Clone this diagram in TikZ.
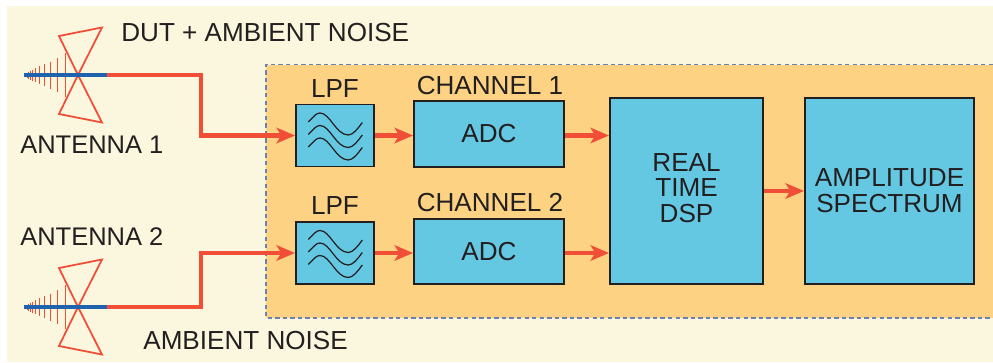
\documentclass[tikz,border=0pt]{standalone}
\usepackage{fontspec}
\setmainfont{Liberation Sans}
\usetikzlibrary{arrows.meta}
\definecolor{creambg}{HTML}{FBF6DE}
\definecolor{orangebg}{HTML}{FDD383}
\definecolor{boxblue}{HTML}{65C8E3}
\definecolor{wirered}{HTML}{F04E37}
\definecolor{feedblue}{HTML}{1F62AE}
\definecolor{dashblue}{HTML}{6B82B0}
\definecolor{inkgray}{HTML}{231F20}

\begin{document}
\begin{tikzpicture}[
  x=0.02cm, y=-0.02cm,
  every node/.style={font=\fontsize{14.85}{14.7}\selectfont, text=inkgray},
  block/.style={draw=inkgray, line width=1.1pt, fill=boxblue, inner sep=0pt, align=center},
  lpf/.style={block, minimum width=1.56cm, minimum height=1.24cm},
  adc/.style={block, minimum width=3.0cm, minimum height=1.31cm},
  tall/.style={block, minimum height=3.72cm},
  label/.style={inner sep=0pt, anchor=west},
  wire/.style={draw=wirered, line width=2.5pt},
  sig/.style={wire, -{Stealth[length=10.5pt, width=8.8pt, inset=2.6pt]}},
  feed/.style={draw=feedblue, line width=2.5pt},
  dipole/.style={draw=wirered, line width=1pt},
]
\useasboundingbox (0,0) rectangle (993,362);

% ── backgrounds ──
\fill[creambg] (7,6) rectangle (993,361.5);
\fill[orangebg] (266,64.5) rectangle (993,318);
\draw[dashblue, line width=0.6pt, dash pattern=on 2.5pt off 1.8pt] (993,64.5) -- (266,64.5) -- (266,318) -- (993,318);

% ── blocks ──
\node[lpf] (lpf1) at (335,135.5) {};
\node[adc] (adc1) at (489,134) {ADC};
\node[lpf] (lpf2) at (335,253) {};
\node[adc] (adc2) at (489,251.5) {ADC};
\node[tall, minimum width=3.06cm] (dsp) at (686.5,191) {};
\node[tall, minimum width=3.38cm] (spec) at (889.5,191) {AMPLITUDE\\SPECTRUM};

\node[inner sep=0pt, align=center] at (686.5,188) {REAL\\TIME\\DSP};
\node[inner sep=0pt] at (335,88.5) {LPF};
\node[inner sep=0pt] at (335,205.5) {LPF};
\node[inner sep=0pt] at (490,86) {CHANNEL 1};
\node[inner sep=0pt] at (490,203) {CHANNEL 2};

\foreach \name in {lpf1,lpf2}{
  \foreach \dy in {0,12.5,25}{
    \draw[inkgray, line width=0.7pt, shift={(\name.center)}, yshift=-\dy*0.02cm]
      (-26.7,-13.5) .. controls (-21,-19) and (-19,-22.5) .. (-15,-22.5)
      .. controls (-5,-22.5) and (1,-0.5) .. (13.3,-0.5)
      .. controls (18,-0.5) and (23,-7) .. (27.3,-13);
  }
}

% ── antennas ──
\foreach \y in {75,307}{
  \draw[dipole, line join=miter] (78,\y) -- (59,\y-39) -- (102,\y-47.5) -- cycle;
  \draw[dipole, line join=miter] (78,\y) -- (59,\y+39) -- (102,\y+47.5) -- cycle;
  \foreach \x/\h in {65.7/22,57/17,50/13.5,44.3/11,39.3/9,35.3/7,32.3/5.5,30/4.5,28.3/3.5,27/2.5}{
    \draw[wirered, line width=0.55pt] (\x,\y-\h) -- (\x,\y+\h);
  }
}
\coordinate (feed1) at (24,75);
\coordinate (ant1) at (107,75);
\coordinate (bend1) at (201,105);
\coordinate (feed2) at (24,307);
\coordinate (ant2) at (107,307);
\coordinate (bend2) at (201,280);
\draw[feed] (feed1) -- (ant1);
\draw[feed] (feed2) -- (ant2);

% ── signal path ──
\draw[sig] (ant1) -| (bend1) |- (lpf1.west);
\draw[sig] (ant2) -| (bend2) |- (lpf2.west);
\draw[sig] (lpf1) -- (adc1.west |- lpf1);
\draw[sig] (lpf2) -- (adc2.west |- lpf2);
\draw[sig] (adc1.east |- lpf1) -- (dsp.west |- lpf1);
\draw[sig] (adc2.east |- lpf2) -- (dsp.west |- lpf2);
\draw[sig] (dsp) -- (spec);

% ── labels ──
\node[label] (dutlabel) at (121,33) {DUT + AMBIENT NOISE};
\node[label, font=\fontsize{14.5}{15}\selectfont] (ant1label) at (20,145) {ANTENNA 1};
\node[label, font=\fontsize{14.5}{15}\selectfont] (ant2label) at (20,237) {ANTENNA 2};
\node[label] (noiselabel) at (143,341) {AMBIENT NOISE};
\end{tikzpicture}
\end{document}
